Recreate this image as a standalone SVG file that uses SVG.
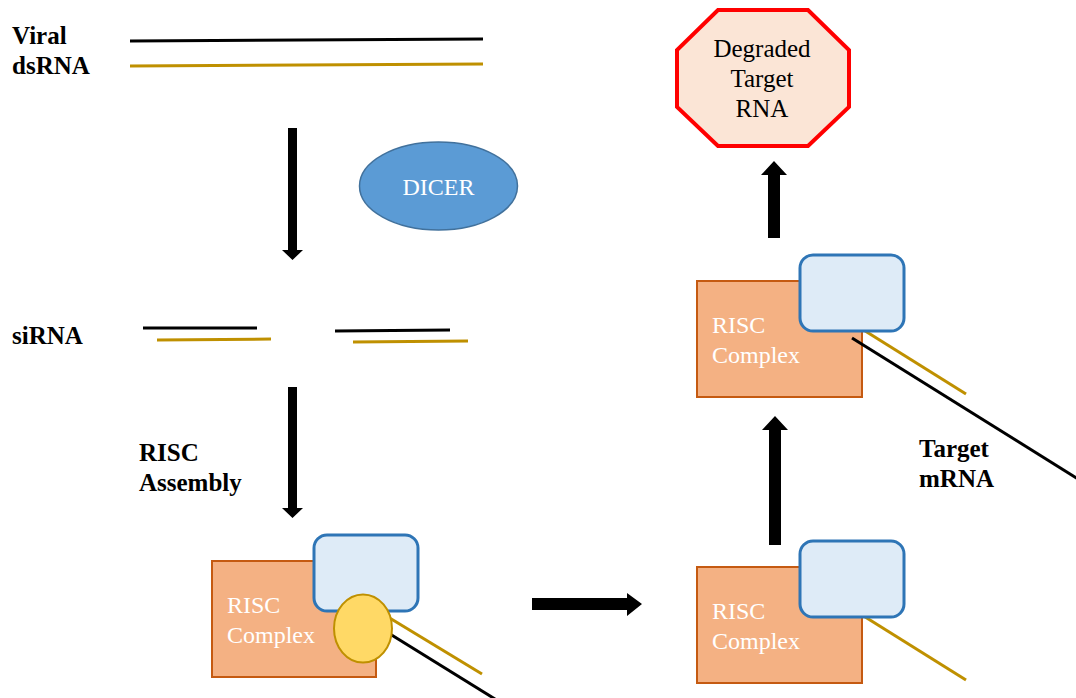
<svg xmlns="http://www.w3.org/2000/svg" width="1076" height="698" viewBox="0 0 1076 698">
<style>
.lbl{font-weight:bold;font-size:25px;fill:#000}
.wt{font-size:24px;fill:#fff}
.bt{font-size:25px;fill:#000}
.blk{stroke:#000;stroke-width:3;fill:none}
.gld{stroke:#BF9000;stroke-width:3;fill:none}
.risc{fill:#F4B183;stroke:#C55A11;stroke-width:2}
.cap{fill:#DEEBF7;stroke:#2E75B6;stroke-width:3}
.arr{fill:#000}
</style>
<rect width="1076" height="698" fill="#fff"/>
<g id="viral-dsrna">
<text class="lbl" font-family="Liberation Serif" x="12" y="44">Viral</text>
<text class="lbl" font-family="Liberation Serif" x="12" y="74">dsRNA</text>
<line class="blk" x1="130" y1="41" x2="483" y2="39"/>
<line class="gld" x1="130" y1="66" x2="483" y2="64"/>
</g>
<g id="dicer">
<ellipse cx="438.5" cy="186" rx="79" ry="44" fill="#5B9BD5" stroke="#41719C" stroke-width="1.5"/>
<text class="wt" font-family="Liberation Serif" x="438.5" y="195" text-anchor="middle">DICER</text>
</g>
<g id="sirna">
<text class="lbl" font-family="Liberation Serif" x="12" y="344">siRNA</text>
<line class="blk" x1="143" y1="328" x2="257" y2="328"/>
<line class="gld" x1="157" y1="340" x2="271" y2="339"/>
<line class="blk" x1="335" y1="331" x2="450" y2="330"/>
<line class="gld" x1="353" y1="342" x2="468" y2="341"/>
</g>
<g id="risc-assembly-label">
<text class="lbl" font-family="Liberation Serif" x="139" y="461">RISC</text>
<text class="lbl" font-family="Liberation Serif" x="139" y="491">Assembly</text>
</g>
<g id="risc-loaded">
<rect class="risc" x="212" y="561" width="164" height="116"/>
<rect class="cap" x="314" y="535" width="104" height="76" rx="13"/>
<text class="wt" font-family="Liberation Serif" x="227" y="613">RISC</text>
<text class="wt" font-family="Liberation Serif" x="227" y="643">Complex</text>
<line class="gld" x1="388" y1="617" x2="482" y2="674"/>
<line class="blk" x1="390" y1="634" x2="495" y2="699"/>
<ellipse cx="363" cy="628.5" rx="29" ry="34" fill="#FFD966" stroke="#BF9000" stroke-width="2"/>
</g>
<g id="risc-guide">
<rect class="risc" x="697" y="567" width="165" height="116"/>
<line class="gld" x1="862" y1="615" x2="966" y2="680"/>
<rect class="cap" x="800" y="541" width="104" height="76" rx="13"/>
<text class="wt" font-family="Liberation Serif" x="712" y="619">RISC</text>
<text class="wt" font-family="Liberation Serif" x="712" y="649">Complex</text>
</g>
<g id="risc-target">
<rect class="risc" x="697" y="281" width="165" height="116"/>
<line class="gld" x1="862" y1="329" x2="966" y2="394"/>
<line class="blk" x1="852" y1="338" x2="1078" y2="479"/>
<rect class="cap" x="800" y="255" width="104" height="76" rx="13"/>
<text class="wt" font-family="Liberation Serif" x="712" y="333">RISC</text>
<text class="wt" font-family="Liberation Serif" x="712" y="363">Complex</text>
</g>
<g id="target-mrna-label">
<text class="lbl" font-family="Liberation Serif" x="919" y="457">Target</text>
<text class="lbl" font-family="Liberation Serif" x="919" y="487">mRNA</text>
</g>
<g id="degraded">
<polygon points="718,10 808,10 849,50 849,107 808,146 718,146 677,107 677,50" fill="#FBE5D6" stroke="#FF0000" stroke-width="4"/>
<text class="bt" font-family="Liberation Serif" x="762" y="57" text-anchor="middle">Degraded</text>
<text class="bt" font-family="Liberation Serif" x="762" y="87" text-anchor="middle">Target</text>
<text class="bt" font-family="Liberation Serif" x="762" y="117" text-anchor="middle">RNA</text>
</g>
<g id="connectors">
<polygon class="arr" points="288,128 297,128 297,250 303,250 292.5,260 282,250 288,250"/>
<polygon class="arr" points="288,387 297,387 297,508 303,508 292.5,518 282,508 288,508"/>
<polygon class="arr" points="532,598 627,598 627,593 642,604 627,616 627,610 532,610"/>
<polygon class="arr" points="769,545 781,545 781,430 788,430 775,416 762,430 769,430"/>
<polygon class="arr" points="768,238 780,238 780,175 787,175 774,161 761,175 768,175"/>
</g>
</svg>
